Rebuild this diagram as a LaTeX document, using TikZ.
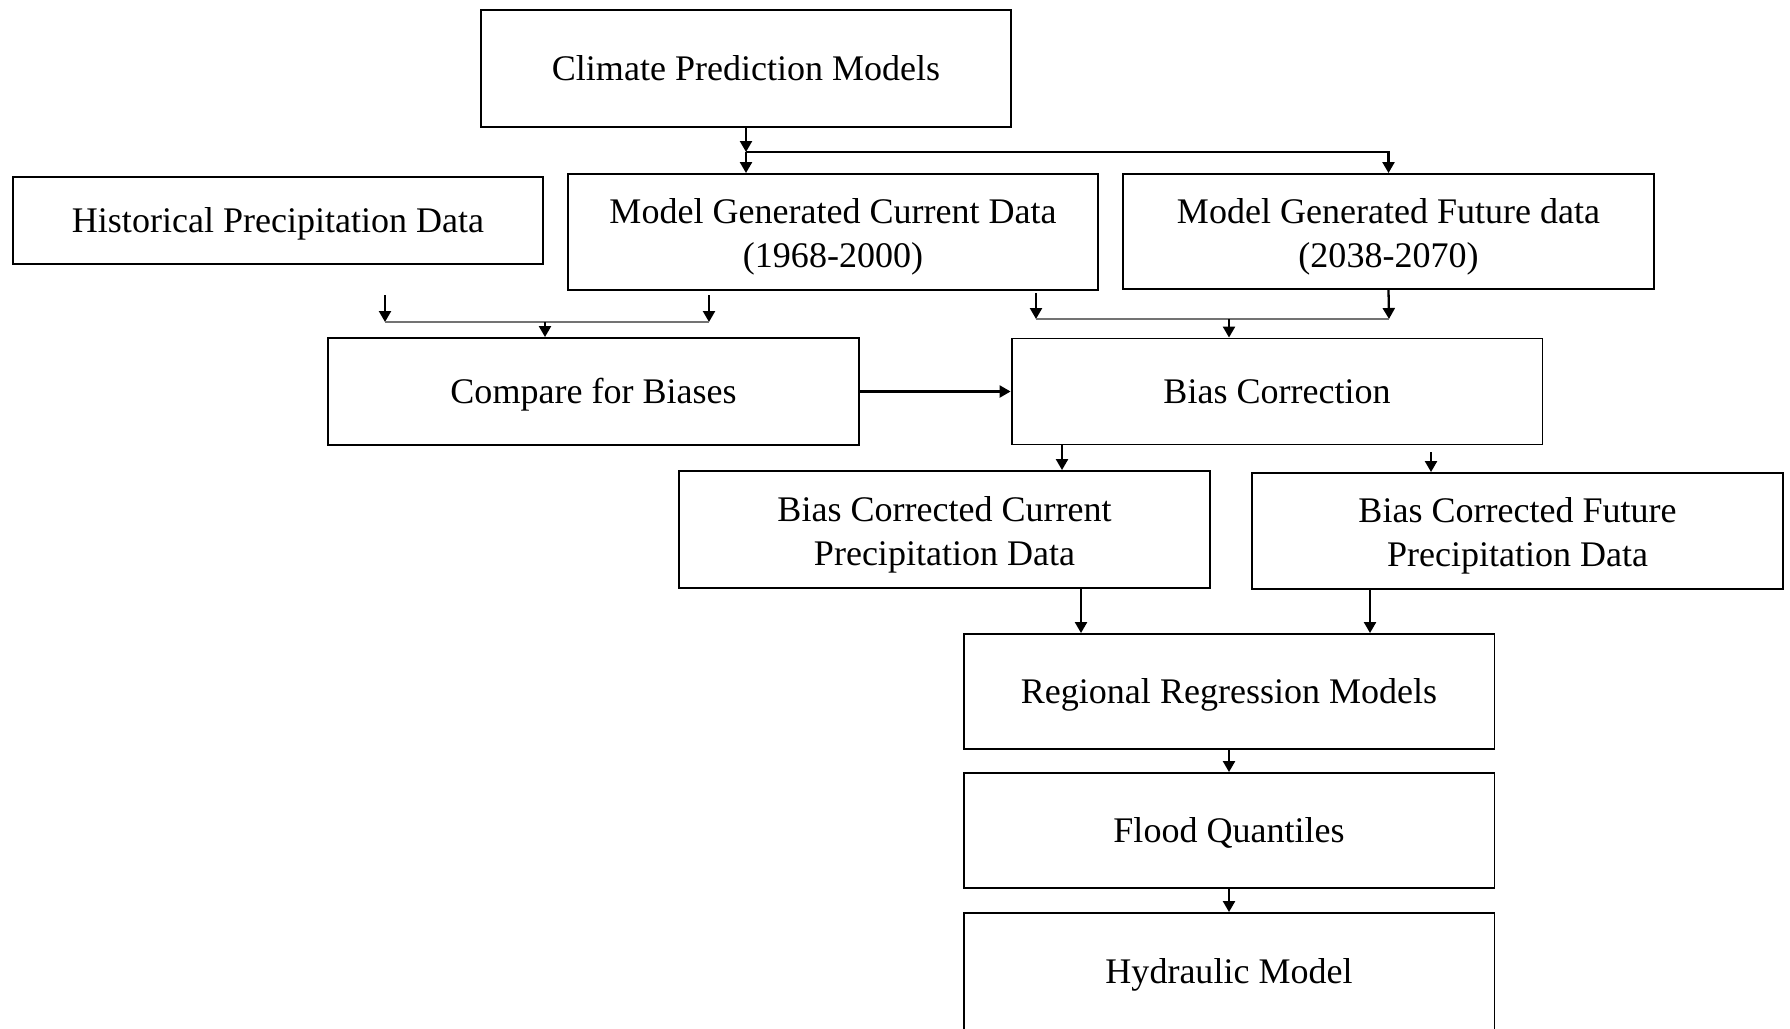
\documentclass[tikz,border=0pt]{standalone}
\usepackage{fontspec}
\setmainfont{Liberation Serif}
\usetikzlibrary{arrows.meta}
\newcommand{\tallstrut}{\rule{0pt}{20pt}}
\tikzset{
	box/.style = {draw, line width=1.1pt, align=center, inner sep=0pt, minimum width=10.62cm,
		font=\fontsize{20.5}{25}\selectfont},
	oneline/.style = {text height=18.5pt, text depth=4.5pt},
	arr/.style = {line width=1.3pt, -{Triangle[length=0.22cm,width=0.24cm]}},
	thinline/.style = {draw=black!55, line width=0.7pt}
}

\begin{document}
\begin{tikzpicture}[x=0.02cm, y=-0.02cm]
%coordinates are pixels of the original figure
\useasboundingbox (0,0) rectangle (1790,1028);

\node[box, oneline, minimum height=2.34cm] (climate) at (746,68.5) {Climate Prediction Models};
\node[box, oneline, minimum height=1.74cm] (hist) at (278,220.5) {Historical Precipitation Data};
\node[box, minimum height=2.32cm] (mcur) at (833,232) {\tallstrut Model Generated Current Data\\(1968-2000)};
\node[box, minimum height=2.30cm] (mfut) at (1388.5,231.5) {\tallstrut Model Generated Future data\\(2038-2070)};
\node[box, oneline, minimum height=2.14cm] (comp) at (593.5,391.5) {Compare for Biases};
\node[box, oneline, minimum height=2.12cm] (bcor) at (1277,391.5) {Bias Correction};
\node[box, minimum height=2.34cm] (bccur) at (944.5,529.5) {\tallstrut Bias Corrected Current\\Precipitation Data};
\node[box, minimum height=2.32cm] (bcfut) at (1517.5,531) {\tallstrut Bias Corrected Future\\Precipitation Data};
\node[box, oneline, minimum height=2.30cm] (reg) at (1229,691.5) {Regional Regression Models};
\node[box, oneline, minimum height=2.30cm] (flood) at (1229,830.5) {Flood Quantiles};
\node[box, oneline, minimum height=2.34cm] (hyd) at (1229,971.5) {Hydraulic Model};

\coordinate (j1) at (746,152);
\draw[arr] (climate.south) -- (j1);
\draw[arr] (j1) -- (j1 |- mcur.north);
\draw[arr] (j1) -| (mfut.north);

%left merge
\coordinate (ha) at (385,295);
\coordinate (hb) at (709,295);
\coordinate (hl) at (385,322);
\coordinate (hr) at (709,322);
\coordinate (hm) at (545,322);
\draw[arr] (ha) -- (hl);
\draw[arr] (hb) -- (hr);
\draw[thinline] (hl) -- (hr);
\draw[arr] (hm) -- (hm |- comp.north);

%right merge
\coordinate (ca) at (1036,293);
\coordinate (cl) at (1036,319);
\coordinate (cr) at (1389,319);
\coordinate (cm) at (1229,319);
\draw[arr] (ca) -- (cl);
\draw[arr] (mfut.south) -- (cr);
\draw[thinline] (cl) -- (cr);
\draw[arr] (cm) -- (cm |- bcor.north);

\draw[arr] (comp) -- (bcor);

\coordinate (k1) at (1062,0);
\coordinate (k2) at (1431,452);
\draw[arr] (k1 |- bcor.south) -- (k1 |- bccur.north);
\draw[arr] (k2) -- (k2 |- bcfut.north);

\coordinate (r1) at (1081,0);
\coordinate (r2) at (1370,0);
\draw[arr] (r1 |- bccur.south) -- (r1 |- reg.north);
\draw[arr] (r2 |- bcfut.south) -- (r2 |- reg.north);

\draw[arr] (reg) -- (flood);
\draw[arr] (flood) -- (hyd);

\end{tikzpicture}
\end{document}
